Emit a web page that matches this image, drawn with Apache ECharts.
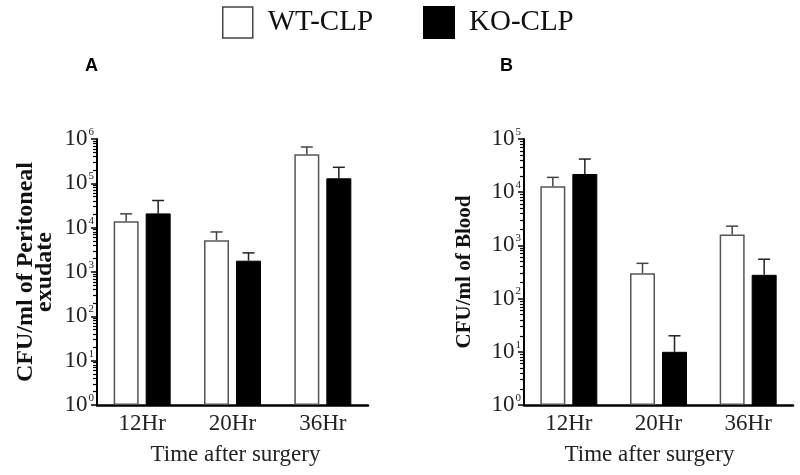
<!DOCTYPE html>
<html><head><meta charset="utf-8">
<script src="https://cdn.jsdelivr.net/npm/echarts@6/dist/echarts.min.js"></script>
<style>html,body{margin:0;padding:0;background:#fff}#c{width:800px;height:475px}</style>
</head><body><div id="c"></div>
<script>
// ---- data ----
const categories = ['12Hr', '20Hr', '36Hr'];
const seriesNames = ['WT-CLP', 'KO-CLP'];
// Panel A: CFU/ml of peritoneal exudate (mean and upper end of error bar)
const peritonealWT = [14000, 5200, 450000];
const peritonealWTUpper = [20500, 8000, 660000];
const peritonealKO = [21000, 1800, 130000];
const peritonealKOUpper = [41000, 2700, 230000];
// Panel B: CFU/ml of blood
const bloodWT = [13000, 300, 1600];
const bloodWTUpper = [19000, 460, 2300];
const bloodKO = [22000, 10, 280];
const bloodKOUpper = [42000, 20, 550];
// tick exponents (labels 10^n)
const ticksA = [0, 1, 2, 3, 4, 5, 6];
const ticksB = [0, 1, 2, 3, 4, 5];
const minorMultipliers = [2, 3, 4, 5, 6, 7, 8, 9];

// ---- helpers ----
const SERIF = '"Liberation Serif", "Times New Roman", serif';
const SANS = '"Liberation Sans", Arial, sans-serif';
function minorValues(maxExp) {
  const out = [];
  for (let e = 0; e < maxExp; e++) minorMultipliers.forEach(m => out.push(m * Math.pow(10, e)));
  return out;
}
function majorValues(exps) { return exps.map(e => Math.pow(10, e)); }
function errData(mean, upper) { return mean.map((m, i) => [i, m, upper[i]]); }
function errRender(offset, color) {
  return function (params, api) {
    const cat = api.value(0), mean = api.value(1), hi = api.value(2);
    const p0 = api.coord([cat, mean]);
    const p1 = api.coord([cat, hi]);
    const x = p0[0] + offset;
    return {
      type: 'group', children: [
        { type: 'line', shape: { x1: x, y1: p0[1], x2: x, y2: p1[1] }, style: { stroke: color, lineWidth: 1.5 } },
        { type: 'line', shape: { x1: x - 6, y1: p1[1], x2: x + 6, y2: p1[1] }, style: { stroke: color, lineWidth: 1.5 } }
      ]
    };
  };
}
const tickLabel = {
  margin: 3,
  formatter: v => '{b|10}{s|' + Math.round(Math.log10(v)) + '}',
  rich: {
    b: { fontSize: 23, fontFamily: SERIF, color: '#222' },
    s: { fontSize: 11, fontFamily: SERIF, color: '#222', verticalAlign: 'top', padding: [0, 0, 14, 1] }
  }
};
function yMain(grid, maxExp, exps, name, nameSize, nameGap) {
  return {
    type: 'log', logBase: 10, gridIndex: grid, position: 'left',
    min: 1, max: Math.pow(10, maxExp),
    axisLine: { show: true, lineStyle: { color: '#000', width: 2 } },
    axisTick: { show: true, length: 6, customValues: majorValues(exps), lineStyle: { color: '#000', width: 1.5 } },
    axisLabel: Object.assign({ customValues: majorValues(exps) }, tickLabel),
    splitLine: { show: false },
    name: name, nameLocation: 'middle', nameRotate: 90, nameGap: nameGap,
    nameTextStyle: { fontFamily: SERIF, fontWeight: 'bold', fontSize: nameSize, color: '#111', lineHeight: 19 }
  };
}
function yMinor(grid, maxExp) {
  return {
    type: 'log', logBase: 10, gridIndex: grid, position: 'left',
    min: 1, max: Math.pow(10, maxExp),
    axisLine: { show: false },
    axisTick: { show: true, length: 4, customValues: minorValues(maxExp), lineStyle: { color: '#000', width: 1.2 } },
    axisLabel: { show: false },
    splitLine: { show: false }
  };
}
function xAxis(grid, namePadRight) {
  return {
    type: 'category', gridIndex: grid, data: categories,
    axisLine: { lineStyle: { color: '#000', width: 2.5 } },
    axisTick: { show: false },
    axisLabel: { fontFamily: SERIF, fontSize: 23, color: '#222', margin: 7 },
    name: 'Time after surgery', nameLocation: 'middle', nameGap: 38,
    nameTextStyle: { fontFamily: SERIF, fontSize: 23, color: '#222', padding: [0, namePadRight, 0, 0] }
  };
}
const wtStyle = { color: '#ffffff', borderColor: '#555', borderWidth: 1.5 };
const koStyle = { color: '#000000', borderColor: '#000', borderWidth: 1 };

const option = {
  backgroundColor: '#fff',
  animation: false,
  legend: {
    left: 222, top: 6, padding: 0, itemWidth: 30, itemHeight: 31, itemGap: 50,
    icon: 'rect',
    data: [
      { name: seriesNames[0], itemStyle: { color: '#fff', borderColor: '#444', borderWidth: 1.5 } },
      { name: seriesNames[1], itemStyle: { color: '#000' } }
    ],
    textStyle: { fontFamily: SERIF, fontSize: 29, color: '#111', padding: [6, 0, 0, 10] }
  },
  title: [
    { text: 'A', left: 85, top: 57, padding: 0, textStyle: { fontFamily: SANS, fontWeight: 'bold', fontSize: 18, color: '#000' } },
    { text: 'B', left: 500, top: 57, padding: 0, textStyle: { fontFamily: SANS, fontWeight: 'bold', fontSize: 18, color: '#000' } }
  ],
  grid: [
    { left: 97, right: 432, top: 139, bottom: 70 },
    { left: 524, right: 7, top: 139, bottom: 70 }
  ],
  xAxis: [xAxis(0, -6), xAxis(1, 18)],
  yAxis: [
    yMain(0, 6, ticksA, 'CFU/ml of Peritoneal\nexudate', 24, 43),
    yMinor(0, 6),
    yMain(1, 5, ticksB, 'CFU/ml of Blood', 21, 50),
    yMinor(1, 5)
  ],
  series: [
    { name: seriesNames[0], type: 'bar', xAxisIndex: 0, yAxisIndex: 0, data: peritonealWT, barWidth: 25, barGap: '28%', itemStyle: wtStyle },
    { name: seriesNames[1], type: 'bar', xAxisIndex: 0, yAxisIndex: 0, data: peritonealKO, barWidth: 25, barGap: '28%', itemStyle: koStyle },
    { name: seriesNames[0], type: 'bar', xAxisIndex: 1, yAxisIndex: 2, data: bloodWT, barWidth: 25, barGap: '28%', itemStyle: wtStyle },
    { name: seriesNames[1], type: 'bar', xAxisIndex: 1, yAxisIndex: 2, data: bloodKO, barWidth: 25, barGap: '28%', itemStyle: koStyle },
    { type: 'custom', xAxisIndex: 0, yAxisIndex: 0, data: errData(peritonealWT, peritonealWTUpper), encode: { x: 0, y: [1, 2] }, renderItem: errRender(-16, '#444'), z: 3 },
    { type: 'custom', xAxisIndex: 0, yAxisIndex: 0, data: errData(peritonealKO, peritonealKOUpper), encode: { x: 0, y: [1, 2] }, renderItem: errRender(16, '#222'), z: 3 },
    { type: 'custom', xAxisIndex: 1, yAxisIndex: 2, data: errData(bloodWT, bloodWTUpper), encode: { x: 0, y: [1, 2] }, renderItem: errRender(-16, '#444'), z: 3 },
    { type: 'custom', xAxisIndex: 1, yAxisIndex: 2, data: errData(bloodKO, bloodKOUpper), encode: { x: 0, y: [1, 2] }, renderItem: errRender(16, '#222'), z: 3 }
  ]
};
const chart = echarts.init(document.getElementById('c'), null, { renderer: 'canvas' });
chart.setOption(option);
</script>
</body></html>
